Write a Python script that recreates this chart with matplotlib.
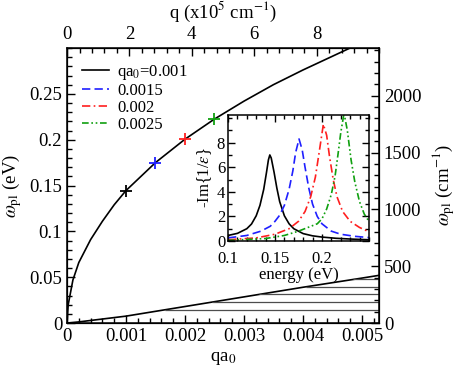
import numpy as np
import matplotlib
matplotlib.use("Agg")
import matplotlib.pyplot as plt
from matplotlib.ticker import MultipleLocator, FuncFormatter

plt.rcParams["font.family"] = ["Liberation Serif", "DejaVu Serif"]
plt.rcParams["mathtext.fontset"] = "stix"

# ---------------------------------------------------------------------------
# Data
# ---------------------------------------------------------------------------

# plasmon dispersion omega_pl(qa0), eV
disp_qa0 = [0, 0.00002, 0.0001, 0.0002, 0.0004, 0.0006, 0.0008, 0.001,
            0.0015, 0.002, 0.0025, 0.003, 0.0035, 0.004, 0.0045, 0.0049]
disp_ev = [0, 0.020, 0.047, 0.066, 0.091, 0.111, 0.129, 0.1445,
           0.175, 0.2005, 0.2225, 0.242, 0.260, 0.276, 0.291, 0.303]

# upper edge of the electron-hole continuum
eh_qa0 = [0, 0.0002, 0.001, 0.002, 0.003, 0.004, 0.005, 0.00529]
eh_ev = [0, 0.0012, 0.0075, 0.018, 0.0285, 0.039, 0.049, 0.052]
eh_levels = [0.0145, 0.0228, 0.0312, 0.0395, 0.0475]

# marked q values
mark_qa0 = [0.001, 0.0015, 0.002, 0.0025]
mark_ev = [0.1445, 0.175, 0.2005, 0.2225]
mark_colors = ["black", "#1f1fff", "#ff1f1f", "#10a010"]
legend_labels = ["qa$_0$=0.001", "0.0015", "0.002", "0.0025"]
line_styles = ["-", (0, (5, 2.5)), (0, (5, 2, 1, 2)), (0, (4, 1.6, 1, 1.6, 1, 1.6))]

# inset: loss function -Im{1/eps} vs energy (eV)
e_black = [0.100, 0.110, 0.120, 0.125, 0.130, 0.134, 0.138, 0.141, 0.143, 0.1445,
           0.146, 0.149, 0.152, 0.155, 0.160, 0.165, 0.170, 0.180, 0.190, 0.200,
           0.215, 0.230, 0.250]
l_black = [0.45, 0.62, 1.0, 1.38, 2.05, 2.9, 4.2, 5.6, 6.6, 7.0,
           6.75, 5.6, 4.3, 3.2, 2.05, 1.4, 1.0, 0.6, 0.42, 0.32,
           0.22, 0.16, 0.10]

e_blue = [0.100, 0.120, 0.135, 0.145, 0.150, 0.155, 0.160, 0.165, 0.169, 0.172,
          0.1756, 0.179, 0.182, 0.186, 0.190, 0.195, 0.200, 0.210, 0.220, 0.235,
          0.250]
l_blue = [0.25, 0.45, 0.8, 1.2, 1.6, 2.1, 2.9, 4.2, 5.7, 7.2,
          8.3, 7.4, 6.0, 4.3, 3.0, 2.0, 1.4, 0.8, 0.55, 0.38,
          0.28]

e_red = [0.100, 0.130, 0.150, 0.165, 0.175, 0.182, 0.188, 0.193, 0.197, 0.2015,
         0.205, 0.208, 0.212, 0.216, 0.222, 0.230, 0.240, 0.250]
l_red = [0.10, 0.25, 0.55, 1.0, 1.6, 2.4, 3.6, 5.2, 7.2, 9.5,
         8.6, 6.9, 5.0, 3.6, 2.4, 1.6, 1.1, 0.75]

e_green = [0.100, 0.140, 0.160, 0.175, 0.185, 0.195, 0.200, 0.205, 0.210, 0.214,
           0.217, 0.220, 0.2235, 0.227, 0.231, 0.235, 0.240, 0.245, 0.250]
l_green = [0.05, 0.2, 0.45, 0.8, 1.1, 1.4, 1.8, 2.6, 3.8, 5.3,
           7.0, 8.8, 10.4, 9.0, 6.6, 4.8, 3.2, 2.2, 1.6]

A0_CM = 0.529e-8          # Bohr radius, cm
EV_TO_CM = 8065.5

# ---------------------------------------------------------------------------
# Figure
# ---------------------------------------------------------------------------

fig = plt.figure(figsize=(4.6, 3.73), dpi=100)
ax = fig.add_axes([0.1457, 0.134, 0.6782, 0.7373])

xmax = 10e5 * A0_CM
ymax = 0.3

ax.plot(disp_qa0, disp_ev, color="black", lw=1.2)
ax.plot(eh_qa0, eh_ev, color="black", lw=1.2)
starts = np.interp(eh_levels, eh_ev, eh_qa0)
ax.hlines(eh_levels, starts, xmax, color="0.3", lw=0.9)

for x, y, c in zip(mark_qa0, mark_ev, mark_colors):
    ax.plot(x, y, "+", color=c, ms=9, mew=1.3, zorder=5)

# legend proxies
handles = []
for lab, ls, c in zip(legend_labels, line_styles, mark_colors):
    h, = ax.plot([], [], color=c, ls=ls, lw=1.2, label=lab)
    handles.append(h)
ax.legend(handles=handles, loc="upper left", bbox_to_anchor=(0.0, 1.0),
          frameon=False, fontsize=12, handlelength=1.6, handletextpad=0.5,
          labelspacing=0.05, borderaxespad=0.5)

ax.set_xlim(0, xmax)
ax.set_ylim(0, ymax)
ax.set_xticks([0, 0.001, 0.002, 0.003, 0.004, 0.005])
ax.xaxis.set_minor_locator(MultipleLocator(0.0002))
ax.set_yticks([0, 0.05, 0.1, 0.15, 0.2, 0.25])
ax.yaxis.set_minor_locator(MultipleLocator(0.01))
fmt = FuncFormatter(lambda v, p: "%g" % round(v, 6))
ax.xaxis.set_major_formatter(fmt)
ax.yaxis.set_major_formatter(fmt)
ax.tick_params(which="both", direction="in", labelsize=13.5, top=False, right=False)
ax.tick_params(which="major", length=6, width=1)
ax.tick_params(which="minor", length=3.5, width=1)
ax.set_xlabel("qa$_0$", fontsize=13.5, labelpad=4)
ax.set_ylabel(r"$\omega_{\rm pl}$ (eV)", fontsize=13.5, labelpad=4)
for s in ax.spines.values():
    s.set_linewidth(1.1)

# top axis: q in 1e5 cm^-1
axt = ax.twiny()
axt.set_xlim(0, 10)
axt.set_xticks([0, 2, 4, 6, 8])
axt.xaxis.set_minor_locator(MultipleLocator(0.4))
axt.tick_params(which="both", direction="in", labelsize=13.5)
axt.tick_params(which="major", length=6, width=1)
axt.tick_params(which="minor", length=3.5, width=1)
axt.set_xlabel("q (x10$^5$ cm$^{-1}$)", fontsize=13.5, labelpad=6)

# right axis: cm^-1
axr = ax.twinx()
axr.set_ylim(0, ymax * EV_TO_CM)
axr.yaxis.set_major_locator(MultipleLocator(500))
axr.yaxis.set_minor_locator(MultipleLocator(100))
axr.tick_params(which="both", direction="in", labelsize=13.5)
axr.tick_params(which="major", length=6, width=1)
axr.tick_params(which="minor", length=3.5, width=1)
axr.set_ylabel(r"$\omega_{\rm pl}$ (cm$^{-1}$)", fontsize=13.5, labelpad=6)

# inset
ins = fig.add_axes([0.4957, 0.3539, 0.3063, 0.3378])
inset_series = [(e_black, l_black), (e_blue, l_blue), (e_red, l_red), (e_green, l_green)]
for (e, l), ls, c in zip(inset_series, line_styles, mark_colors):
    ins.plot(e, l, color=c, ls=ls, lw=1.2)
ins.set_xlim(0.1, 0.25)
ins.set_ylim(0, 10.25)
ins.set_xticks([0.1, 0.15, 0.2])
ins.xaxis.set_minor_locator(MultipleLocator(0.01))
ins.set_yticks([0, 2, 4, 6, 8])
ins.yaxis.set_minor_locator(MultipleLocator(1))
ins.xaxis.set_major_formatter(fmt)
ins.tick_params(which="both", direction="in", labelsize=12, top=True, right=True)
ins.tick_params(axis="y", pad=2)
ins.tick_params(axis="x", pad=7)
ins.tick_params(which="major", length=5, width=1)
ins.tick_params(which="minor", length=3, width=1)
ins.set_xlabel("energy (eV)", fontsize=12, labelpad=0)
ins.set_ylabel(r"-Im{1/$\varepsilon$}", fontsize=12, labelpad=2)
for s in ins.spines.values():
    s.set_linewidth(1.1)

fig.savefig("out.png", dpi=100)
